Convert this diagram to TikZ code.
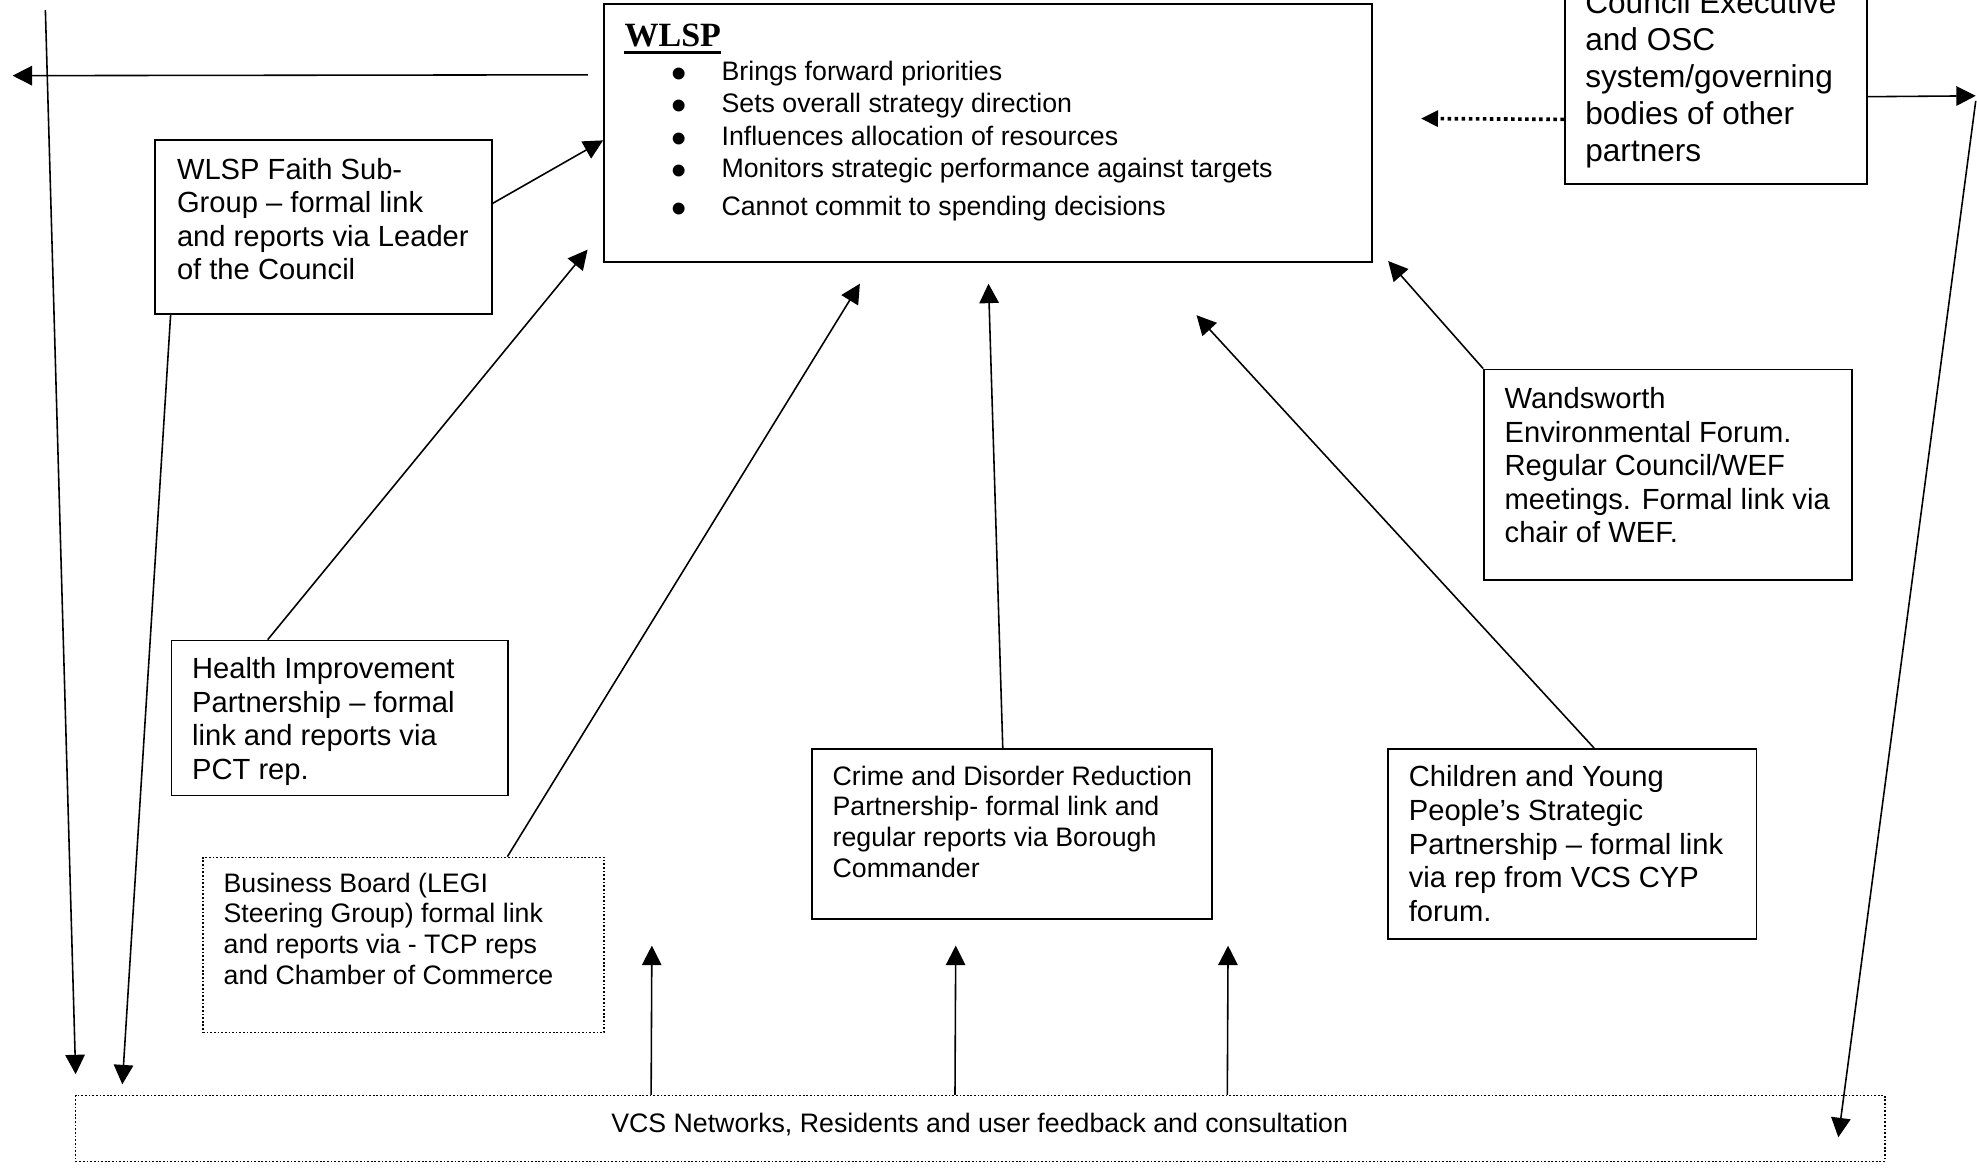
\documentclass[tikz,border=0pt]{standalone}
\usepackage{fontspec}
\setmainfont{Liberation Sans}
\newfontfamily\titlefont{Liberation Serif}
\usetikzlibrary{arrows.meta,fit,calc}
\newcommand{\blt}{\makebox[20.2pt][l]{\smash{\raisebox{-3.4pt}{\hspace*{-0.6pt}\fontsize{18}{18}\selectfont •}}}}
\begin{document}
\begin{tikzpicture}[x=0.519pt,y=-0.519pt,
  box/.style={draw, line width=0.7pt, inner sep=0pt},
  dotbox/.style={draw, line width=0.6pt, dash pattern=on 0.7pt off 0.8pt, inner sep=0pt},
  txt/.style={inner sep=0pt, anchor=north west, align=left},
  bigtxt/.style={txt, font=\fontsize{12}{13.8}\selectfont},
  smalltxt/.style={txt, font=\fontsize{11}{12.6}\selectfont},
  conn/.style={line width=0.65pt, -{Triangle[length=8pt,width=8pt]}},
  dotconn/.style={line width=1.5pt, dash pattern=on 1.45pt off 1.45pt, -{Triangle[length=7pt,width=6.5pt]}},
]
\useasboundingbox (0,0) rectangle (1568,926);
\clip (0,0) rectangle (1568,926);

% boxes
\node[box, fit={(479,3) (1088,208)}] (wlsp) {};
\node[box, fit={(1241,-40) (1481,146)}] (council) {};
\node[box, fit={(123,111) (390,249)}] (faith) {};
\node[box, fit={(136,508) (403,631)}] (health) {};
\node[dotbox, fit={(161,680) (479,819)}] (biz) {};
\node[box, fit={(644,594) (961,729)}] (crime) {};
\node[box, fit={(1101,594) (1393,745)}] (cyp) {};
\node[box, fit={(1177,293) (1469,460)}] (wef) {};
\node[dotbox, fit={(60,869) (1495,921)}] (vcs) {};

% texts
\node[txt, font=\titlefont\bfseries\fontsize{14}{16}\selectfont] (wlspt) at (495,18.5) {WLSP};
\draw[line width=1.3pt] ($(wlspt.south west)+(0,4)$) -- ($(wlspt.south east)+(0,4)$);
\node[txt, font=\fontsize{11}{13.3}\selectfont] (wlspl) at (533,48)
 {\blt Brings forward priorities\\
  \blt Sets overall strategy direction\\
  \blt Influences allocation of resources\\
  \blt Monitors strategic performance against targets\\[2.3pt]
  \blt Cannot commit to spending decisions};
\node[txt, font=\fontsize{13}{15.2}\selectfont] (councilt) at (1257,-8)
 {Council Executive\\and OSC\\system/governing\\bodies of other\\partners};
\node[bigtxt] (faitht) at (140,125)
 {WLSP Faith Sub-\\Group – formal link\\and reports via Leader\\of the Council};
\node[bigtxt] (healtht) at (152,521)
 {Health Improvement\\Partnership – formal\\link and reports via\\PCT rep.};
\node[smalltxt] (bizt) at (177,692)
 {Business Board (LEGI\\Steering Group) formal link\\and reports via - TCP reps\\and Chamber of Commerce};
\node[smalltxt] (crimet) at (660,607)
 {Crime and Disorder Reduction\\Partnership- formal link and\\regular reports via Borough\\Commander};
\node[bigtxt] (cypt) at (1117,607)
 {Children and Young\\People’s Strategic\\Partnership – formal link\\via rep from VCS CYP\\forum.};
\node[bigtxt] (weft) at (1193,307)
 {Wandsworth\\Environmental Forum.\\Regular Council/WEF\\meetings. Formal link via\\chair of WEF.};
\node[inner sep=0pt, font=\fontsize{11}{12.6}\selectfont] (vcst) at (777,892)
 {VCS Networks, Residents and user feedback and consultation};

% free ends
\coordinate (leftTip) at (10,60);
\coordinate (topL) at (36,8);
\coordinate (botL) at (60,852);
\coordinate (faithTip) at (97,860);
\coordinate (healthTip) at (466,198);
\coordinate (bizTip) at (682,225);
\coordinate (crimeTip) at (784,225);
\coordinate (cypTip) at (949,250);
\coordinate (wefTip) at (1101,207);
\coordinate (councilTip) at (1127,94);
\coordinate (rightTip) at (1567,76);
\coordinate (topR) at (1567,80);
\coordinate (botR) at (1458,902);
\coordinate (up1) at (517,750);
\coordinate (up2) at (758,750);
\coordinate (up3) at (974,750);

% connectors
\draw[conn] ($(wlsp.north west)+(-12,57)$) -- (leftTip);
\draw[conn] (topL) -- (botL);
\draw[conn] ($(faith.north east)+(0,51)$) -- ($(wlsp.north west)+(0,109)$);
\draw[conn] ($(faith.south west)+(13,0)$) -- (faithTip);
\draw[conn] ($(health.north west)+(77,0)$) -- (healthTip);
\draw[conn] ($(biz.north west)+(242,0)$) -- (bizTip);
\draw[conn] ($(crime.north west)+(152,0)$) -- (crimeTip);
\draw[conn] ($(cyp.north west)+(164,0)$) -- (cypTip);
\draw[conn] (wef.north west) -- (wefTip);
\draw[dotconn] ($(council.south west)+(0,-52)$) -- (councilTip);
\draw[conn] ($(council.south east)+(0,-70)$) -- (rightTip);
\draw[conn] (topR) -- (botR);
\draw[conn] ($(vcs.north west)+(457,0)$) -- (up1);
\draw[conn] ($(vcs.north west)+(698,0)$) -- (up2);
\draw[conn] ($(vcs.north west)+(914,0)$) -- (up3);
\end{tikzpicture}
\end{document}
